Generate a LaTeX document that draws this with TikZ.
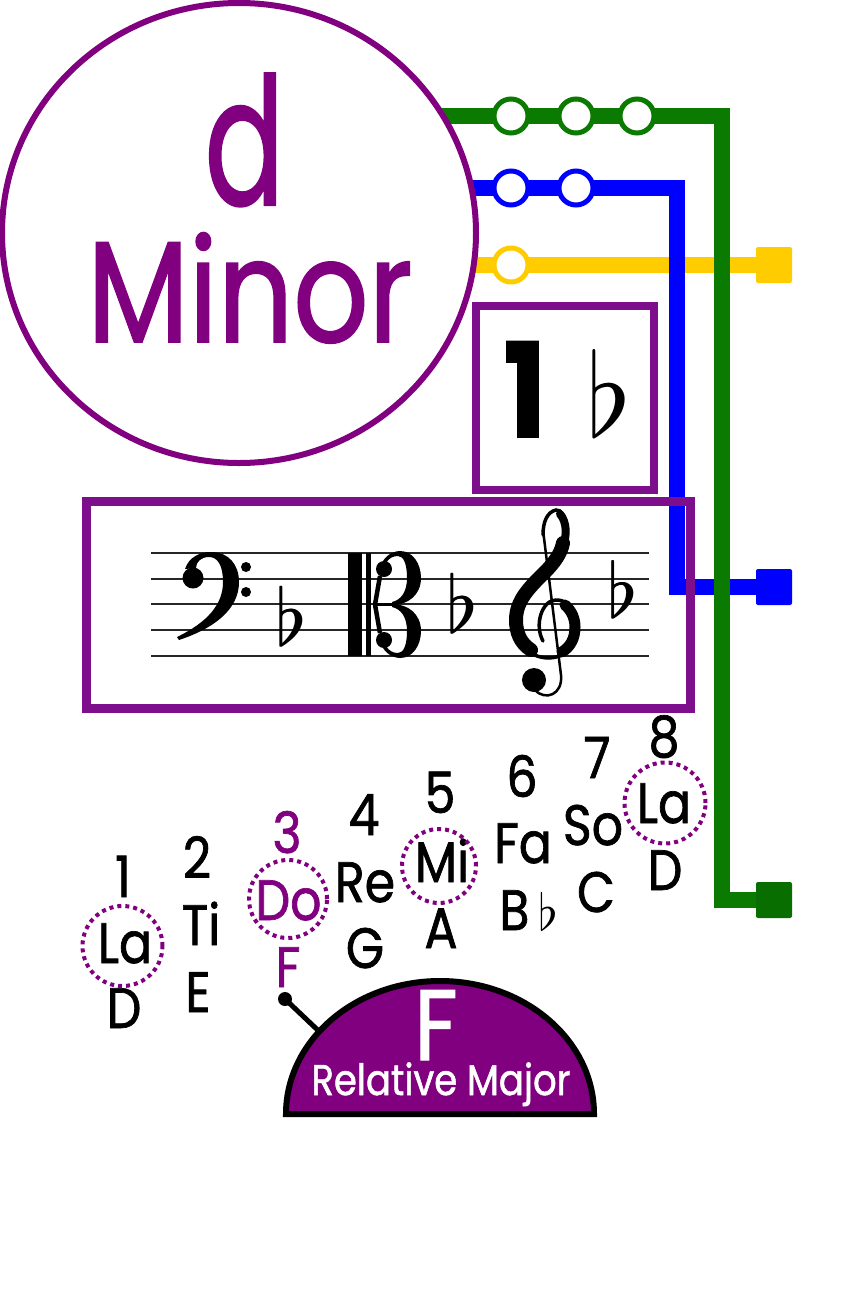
\documentclass[tikz,border=0pt]{standalone}
\usepackage{fontspec}
\setmainfont{Poppins}[FakeStretch=0.86, FakeBold=1.2]
\usepackage{graphicx}
\definecolor{mpurple}{RGB}{128,0,128}
\definecolor{bpurple}{RGB}{125,14,140}
\definecolor{mgreen}{RGB}{10,122,0}
\definecolor{mblue}{RGB}{0,0,255}
\definecolor{myellow}{RGB}{255,204,0}
\newcommand\bigf{\fontsize{137}{137}\selectfont}
\newcommand\solf{\fontsize{57}{57}\selectfont}
\newcommand\flatsym[1]{\scalebox{#1}{\fontsize{10}{12}\selectfont$\flat$}}
\newcommand\boldflat[1]{\rlap{\flatsym{#1}}\hspace{1.2pt}\flatsym{#1}}
\begin{document}
\begin{tikzpicture}[x=1pt,y=-1pt,
  metro/.style={line width=16pt, line join=miter, line cap=butt},
  station/.style={circle, draw, line width=5pt, fill=white, minimum size=34pt, inner sep=0pt},
  term/.style={rectangle, rounded corners=2pt, minimum size=36pt, inner sep=0pt},
  frame/.style={draw=bpurple, line width=9pt},
  txt/.style={inner sep=0pt, anchor=base, font=\solf},
  ring/.style={circle, draw=mpurple, line width=4pt, dash pattern=on 4pt off 4pt, inner sep=0pt},
  staffline/.style={draw=black!85, line width=2pt},
  ink/.style={fill=black, draw=none}]
\fill[white] (0,0) rectangle (857,1293);
\useasboundingbox (0,0) rectangle (857,1293);

% --- metro lines ---
\coordinate (yS) at (400,265);
\coordinate (bS) at (400,188);
\coordinate (bC) at (677,188);
\coordinate (gS) at (400,116);
\coordinate (gC) at (722,116);
\coordinate (yE) at (774,265);
\coordinate (bE) at (774,587);
\coordinate (gE) at (774,900);
\draw[metro, myellow] (yS) -- (yE);
\draw[metro, mblue] (bS) -- (bC) |- (bE);
\draw[metro, mgreen] (gS) -- (gC) |- (gE);
\node[term, fill=myellow] (yT) at (yE) {};
\node[term, fill=mblue] (bT) at (bE) {};
\node[term, fill=mgreen!90!black] (gT) at (gE) {};

% --- key circle ---
\draw[draw=mpurple, line width=6pt, fill=white] (239,233) ellipse [x radius=237pt, y radius=230pt];
\node[inner sep=0pt, anchor=base, font=\bigf, text=mpurple] (dname) at (244.5,205) {\scalebox{1}[1.3]{d}};
\node[inner sep=0pt, anchor=base, font=\bigf, text=mpurple] (minor) at (250,342) {\scalebox{1}[1.05]{Minor}};

% --- stations ---
\node[station, draw=mgreen] (g1) at (511,116) {};
\node[station, draw=mgreen] (g2) at (576,116) {};
\node[station, draw=mgreen] (g3) at (637,116) {};
\node[station, draw=mblue] (b1) at (511,188) {};
\node[station, draw=mblue] (b2) at (576,188) {};
\node[station, draw=myellow] (y1) at (511,265) {};

% --- key signature box ---
\draw[draw=bpurple, line width=8pt] (476,306) rectangle (654,490);
\node[inner sep=0pt, anchor=base, font=\fontsize{131}{131}\selectfont\bfseries] (one) at (525,437) {1};
\node[inner sep=0pt, anchor=base west] (oneflat) at (586,436) {\flatsym{11.6}};

% --- staff box ---
\draw[frame] (86.5,501.5) rectangle (690.5,708);
\foreach \i/\yy in {1/553,2/579,3/604,4/630,5/656}{
  \coordinate (sl\i) at (151,\yy);
  \coordinate (sr\i) at (649,\yy);
  \draw[staffline] (sl\i) -- (sr\i);
}
% bass clef
\fill[ink] (193,578) circle (10.5);
\fill[ink] (185,569) .. controls (189,557) and (200,552) .. (211,552)
  .. controls (229,552) and (239,565) .. (239,582)
  .. controls (239,609) and (215,628) .. (179,640)
  -- (177,637)
  .. controls (208,622) and (223,604) .. (223,582)
  .. controls (223,566) and (218,557) .. (209,557)
  .. controls (201,557) and (196,562) .. (196,568) -- cycle;
\fill[ink] (246,567) circle (5);
\fill[ink] (246,592) circle (5);
% alto clef
\fill[ink] (348,553) rectangle (362,656);
\fill[ink] (366,553) rectangle (371,656);
\fill[ink] (384,569) circle (8);
\fill[ink] (384,640) circle (8);
\fill[ink] (383,561) .. controls (388,553) and (396,551) .. (400,551)
  .. controls (413,551) and (421,564) .. (421,578)
  .. controls (421,595) and (408,605) .. (392,605)
  -- (392,602)
  .. controls (401,600) and (407,592) .. (407,578)
  .. controls (407,565) and (404,556) .. (398,556)
  .. controls (393,556) and (389,558) .. (386,563) -- cycle;
\fill[ink] (383,648) .. controls (388,656) and (396,658) .. (400,658)
  .. controls (413,658) and (421,645) .. (421,631)
  .. controls (421,614) and (408,604) .. (392,604)
  -- (392,607)
  .. controls (401,609) and (407,617) .. (407,631)
  .. controls (407,644) and (404,653) .. (398,653)
  .. controls (393,653) and (389,651) .. (386,646) -- cycle;
\draw[line width=4.5pt] (380,576) -- (375,604.5) -- (380,633);
\draw[line width=3pt] (375,604.5) -- (393,604.5);
% treble clef
\draw[line width=2.5pt] (543,530) -- (561,675) .. controls (563,695) and (545,701) .. (535,690);
\fill[ink] (534,680) circle (12);
\draw[line width=3.5pt, line cap=round] (543,641) .. controls (534,625) and (542,600) .. (556,600)
  .. controls (571,600) and (578,614) .. (578,627)
  .. controls (578,646) and (564,658) .. (549,658)
  .. controls (528,658) and (514,641) .. (514,620)
  .. controls (514,599) and (530,586) .. (545,571)
  .. controls (560,556) and (569,545) .. (567,530)
  .. controls (566,517) and (561,509) .. (556,510)
  .. controls (547,512) and (543,522) .. (543,535);
\draw[line width=14pt, line cap=round] (531,650) .. controls (520,643) and (516,632) .. (516,620)
  .. controls (516,600) and (530,587) .. (545,572)
  .. controls (555,562) and (561,553) .. (563,543);
\draw[line width=8pt, line cap=round] (563,545) .. controls (567,536) and (567,522) .. (560,514);
\draw[line width=11pt, line cap=round] (565,605) .. controls (572,611) and (575,619) .. (575,627)
  .. controls (575,639) and (570,647) .. (562,652);
% flats
\node[inner sep=0pt, anchor=base west] (bflat) at (275,645) {\boldflat{7.9}};
\node[inner sep=0pt, anchor=base west] (aflat) at (446,632) {\boldflat{7.9}};
\node[inner sep=0pt, anchor=base west] (tflat) at (607,617) {\boldflat{7.6}};

% --- solfege ---
\node[txt] (n1) at (123,897) {1};
\node[txt] (s1) at (125,963) {La};
\node[txt] (l1) at (124,1028) {D};
\node[txt] (n2) at (197,878) {2};
\node[txt] (s2) at (201,945) {Ti};
\node[txt] (l2) at (198,1012) {E};
\node[txt, text=mpurple] (n3) at (287,853) {3};
\node[txt, text=mpurple] (s3) at (288.5,920) {Do};
\node[txt, text=mpurple] (l3) at (288,987) {F};
\node[txt] (n4) at (364,835) {4};
\node[txt] (s4) at (365,902) {Re};
\node[txt] (l4) at (365,968) {G};
\node[txt] (n5) at (440,813) {5};
\node[txt] (s5) at (442,882) {Mi};
\node[txt] (l5) at (441,948) {A};
\node[txt] (n6) at (522,797) {6};
\node[txt] (s6) at (523,863) {Fa};
\node[txt] (l6) at (529,930) {B\,\flatsym{5.1}};
\node[txt] (n7) at (597,778) {7};
\node[txt] (s7) at (593,845) {So};
\node[txt] (l7) at (596,912) {C};
\node[txt] (n8) at (664,757) {8};
\node[txt] (s8) at (664,823) {La};
\node[txt] (l8) at (665,890) {D};

\node[ring, minimum size=80pt] (r1) at (122.5,946) {};
\node[ring, minimum size=78pt] (r3) at (288,899) {};
\node[ring, minimum size=74pt] (r5) at (439,866) {};
\node[ring, minimum size=81pt] (r8) at (665,803) {};

% --- relative major ---
\node[circle, fill=black, inner sep=0pt, minimum size=14pt] (fdot) at (285,999) {};
\coordinate (domeedge) at (324,1036);
\draw[line width=5pt] (fdot.center) -- (domeedge);
\draw[line width=6pt, line join=miter, fill=mpurple] (286,1114) arc[start angle=180, end angle=0, x radius=154pt, y radius=133pt] -- cycle;
\node[inner sep=0pt, anchor=base, text=white, font=\fontsize{100}{100}\selectfont] (relF) at (436,1060) {F};
\node[inner sep=0pt, anchor=base, text=white, font=\fontsize{43}{43}\selectfont] (relM) at (441,1095) {Relative Major};
\end{tikzpicture}
\end{document}
